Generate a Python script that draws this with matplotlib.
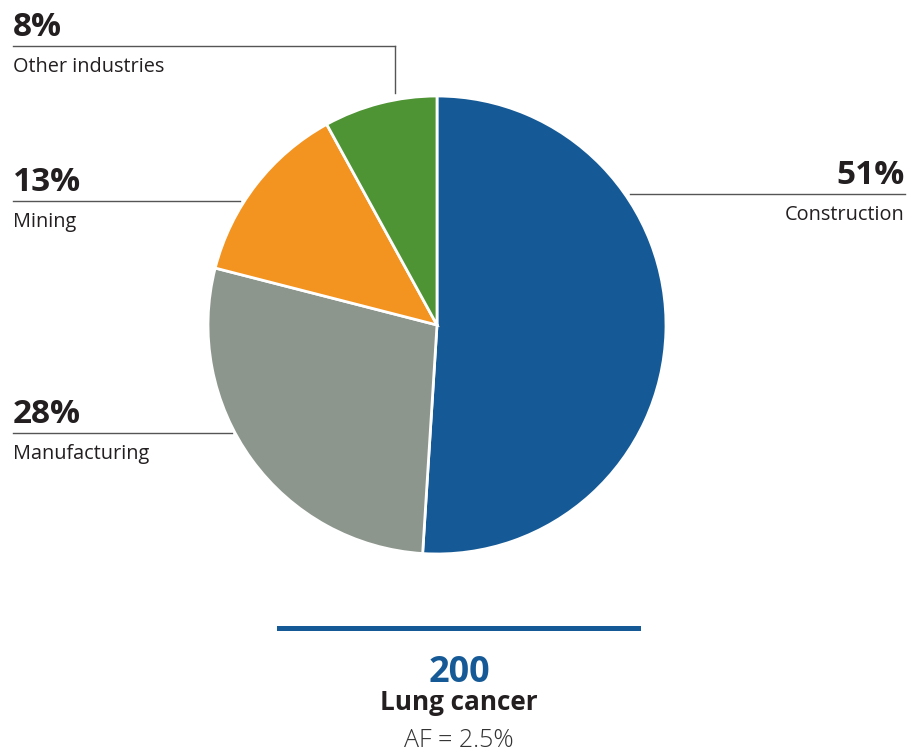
import matplotlib.pyplot as plt
from matplotlib.patches import Rectangle

industries = ["Construction", "Manufacturing", "Mining", "Other industries"]
shares = [51, 28, 13, 8]
colors = ["#155a96", "#8c968d", "#f39320", "#4f9434"]
total_cases = 200
cancer = "Lung cancer"
af_text = "AF = 2.5%"

W, H = 907, 752
TEXT = "#231f20"
plt.rcParams["font.family"] = ["Open Sans", "DejaVu Sans"]

fig = plt.figure(figsize=(W / 100, H / 100), dpi=100)
ax = fig.add_axes([0, 0, 1, 1])
ax.set_xlim(0, W)
ax.set_ylim(H, 0)
ax.axis("off")

# pie in a separate axes so the direction is not flipped
cx, cy, r = 437, 325, 229
pax = fig.add_axes([(cx - r) / W, 1 - (cy + r) / H, 2 * r / W, 2 * r / H])
pax.pie(shares, colors=colors, startangle=90, counterclock=False,
        wedgeprops=dict(edgecolor="white", linewidth=2))
pax.set_xlim(-1, 1)
pax.set_ylim(-1, 1)
pax.axis("off")

line_kw = dict(color="#555555", lw=1)

# label positions (pixel coords): (line y, x0, x1, align)
labels = [
    (194, 630, 905, "right"),
    (433, 13, 232, "left"),
    (201, 13, 240, "left"),
    (46, 13, 395, "left"),
]
for name, pct, (ly, x0, x1, ha) in zip(industries, shares, labels):
    ax.plot([x0, x1], [ly, ly], **line_kw)
    tx = x0 if ha == "left" else x1
    ax.text(tx, ly - 10, f"{pct}%", ha=ha, va="baseline", fontsize=24,
            fontweight="bold", color=TEXT)
    ax.text(tx, ly + 26, name, ha=ha, va="baseline", fontsize=14.3,
            color=TEXT)
# vertical leader for the small slice
ax.plot([395, 395], [46, 93], **line_kw)

# summary block
ax.add_patch(Rectangle((277, 626), 364, 5, color=colors[0], lw=0))
ax.text(459, 682, str(total_cases), ha="center", va="baseline", fontsize=26,
        fontweight="bold", color=colors[0])
ax.text(459, 710, cancer, ha="center", va="baseline", fontsize=18.8,
        fontweight="bold", color=TEXT)
ax.text(459, 747, af_text, ha="center", va="baseline", fontsize=18,
        fontweight="light", color="#333333")

fig.savefig("out.png", dpi=100)
